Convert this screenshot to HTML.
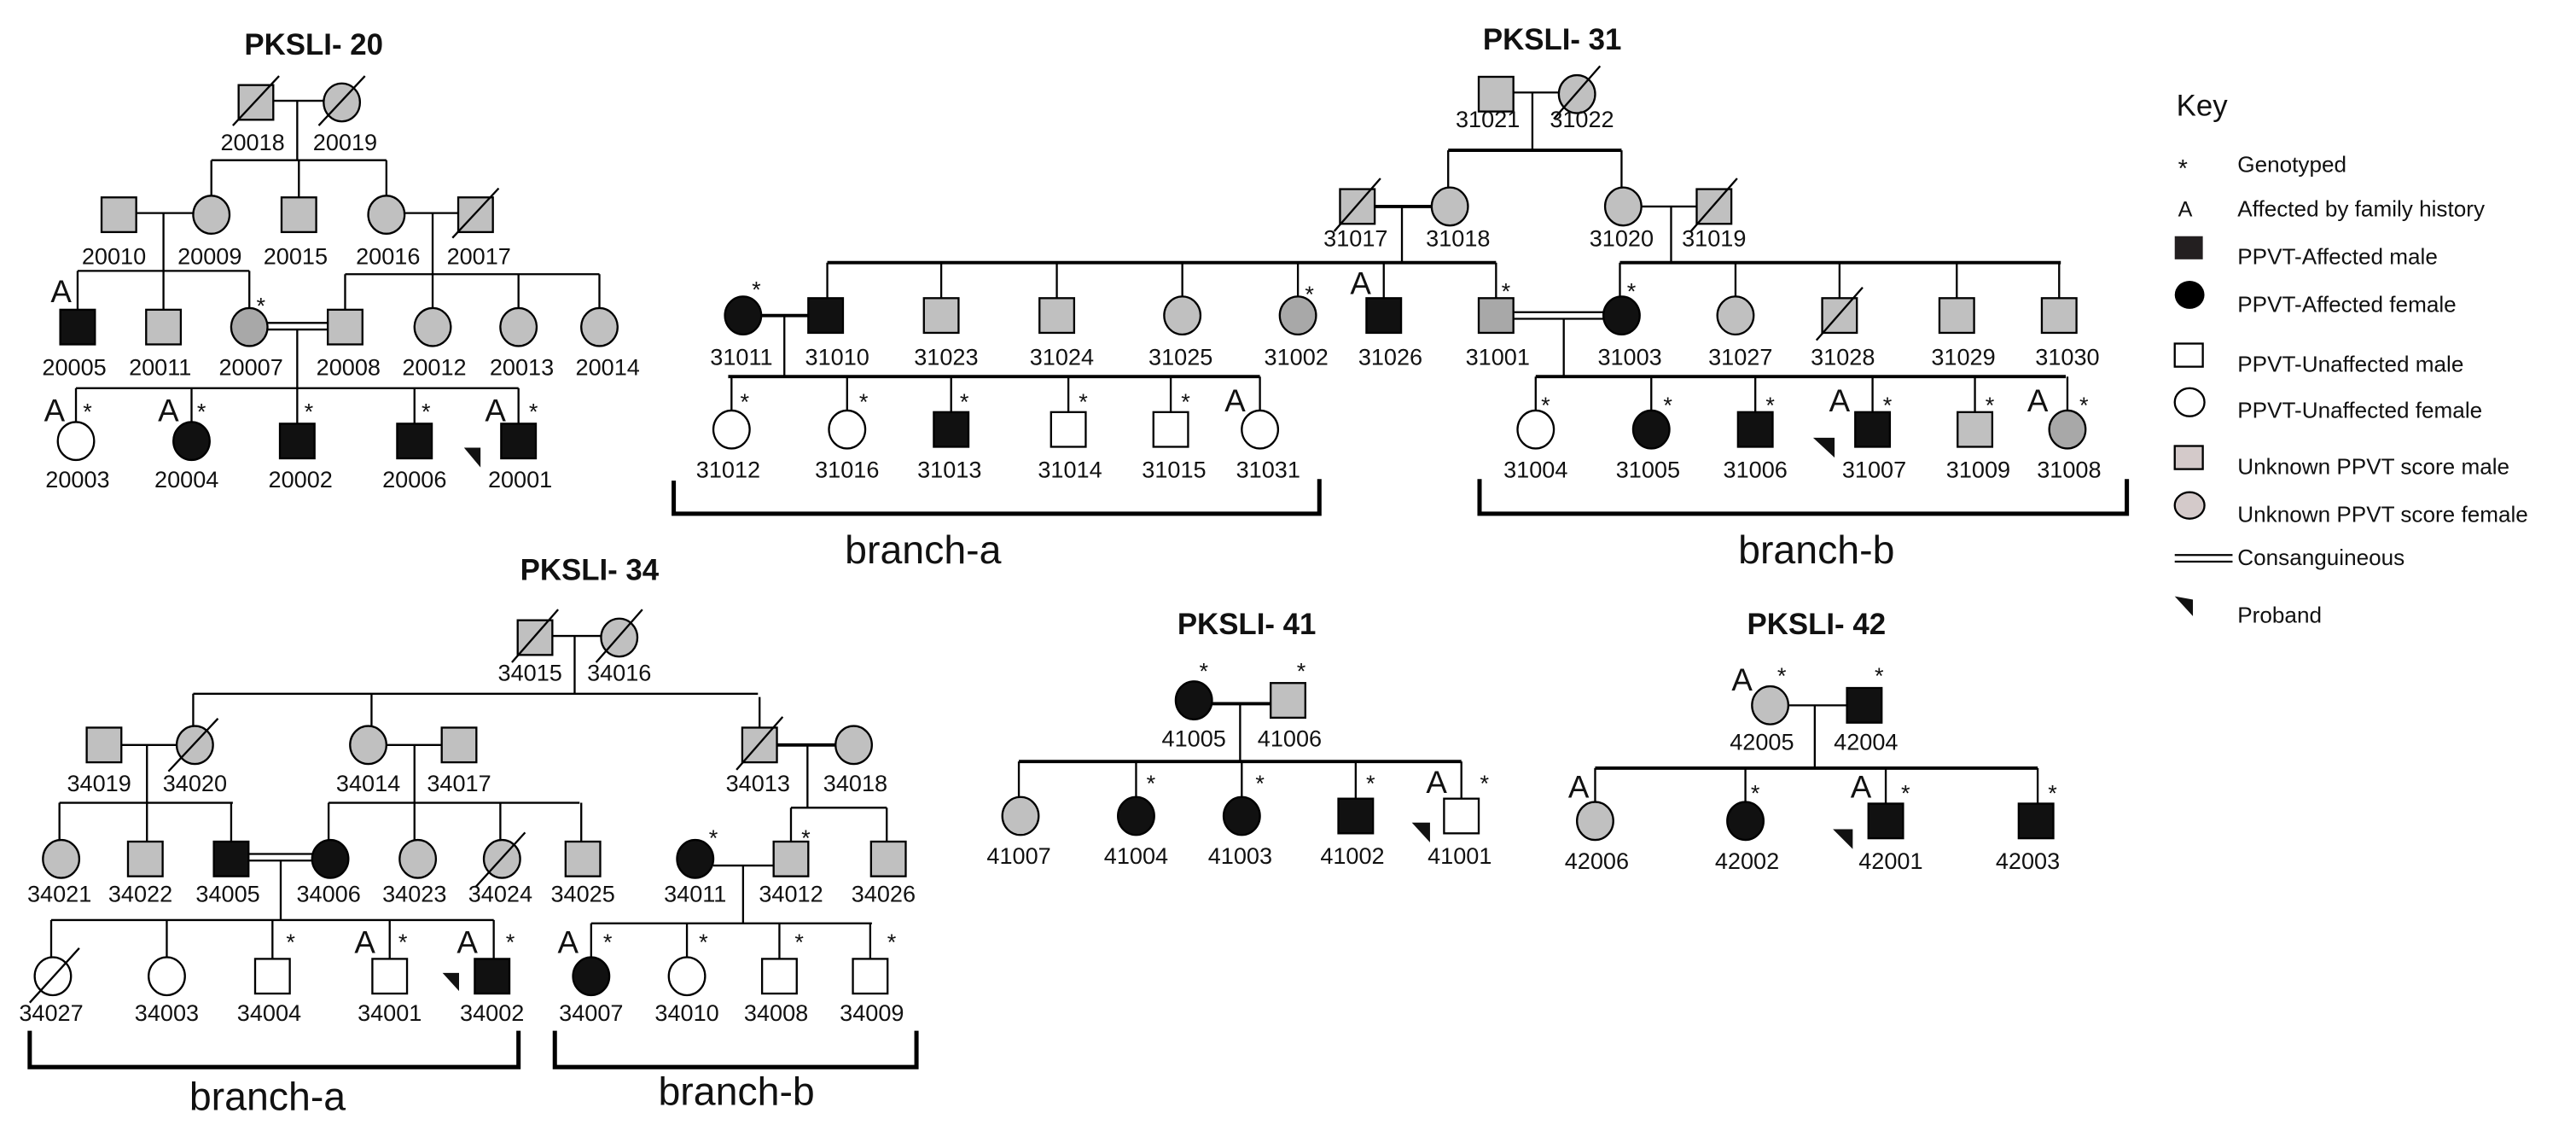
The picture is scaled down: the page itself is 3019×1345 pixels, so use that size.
<!DOCTYPE html>
<html><head><meta charset="utf-8"><style>
html,body{margin:0;padding:0;background:#fff}
svg{display:block}
.l{stroke:#000;stroke-width:1.2;fill:none}
.t{stroke:#000;stroke-width:2;fill:none}
.b{stroke:#000;stroke-width:2.6;fill:none}
.g{fill:#c0c0c0;stroke:#000;stroke-width:1.2}
.d{fill:#a8a8a8;stroke:#000;stroke-width:1.2}
.k{fill:#111;stroke:#000;stroke-width:1.2}
.w{fill:#fff;stroke:#000;stroke-width:1.2}
.p{fill:#d4caca;stroke:#000;stroke-width:1.2}
text{font-family:"Liberation Sans",sans-serif;fill:#111}
.n{font-size:14px;text-anchor:middle}
.a{font-size:19px;text-anchor:middle}
.s{font-size:14px;text-anchor:middle}
.h{font-size:18px;font-weight:bold;text-anchor:middle}
.br{font-size:24px;text-anchor:middle}
.ky{font-size:13.5px}
</style></head><body>
<svg width="3019" height="1345" viewBox="0 0 1560 695" preserveAspectRatio="none" xmlns="http://www.w3.org/2000/svg">
<defs>
<rect id="S" x="-10.5" y="-10.5" width="21" height="21"/>
<ellipse id="C" cx="0" cy="0" rx="11" ry="11.5"/>
</defs>

<!-- ================= PKSLI-20 ================= -->
<text class="h" x="190" y="33">PKSLI- 20</text>
<path class="l" d="M166,61H196M180,61V97M128,97H234M128,97V118.5M181,97V119.5M234,97V118.5"/>
<use href="#S" class="g" x="155" y="62"/><use href="#C" class="g" x="207" y="62"/>
<path class="l" d="M141,76L169,46M193,76L221,46"/>
<text class="n" x="153" y="91">20018</text><text class="n" x="209" y="91">20019</text>

<path class="l" d="M83,129H117M245,129H278M99,129V164M47,164H151M47,164V187.5M99,164V187.5M151,164V186.5M262,129V166M209,166H363M209,166V187.5M262,166V186.5M314,166V186.5M363,166V186.5"/>
<use href="#S" class="g" x="72" y="130"/><use href="#C" class="g" x="128" y="130"/><use href="#S" class="g" x="181" y="130"/><use href="#C" class="g" x="234" y="130"/><use href="#S" class="g" x="288" y="130"/>
<path class="l" d="M274,144L302,114"/>
<text class="n" x="69" y="160">20010</text><text class="n" x="127" y="160">20009</text><text class="n" x="179" y="160">20015</text><text class="n" x="235" y="160">20016</text><text class="n" x="290" y="160">20017</text>

<use href="#S" class="k" x="47" y="198"/><use href="#S" class="g" x="99" y="198"/><use href="#C" class="d" x="151" y="198"/><use href="#S" class="g" x="209" y="198"/><use href="#C" class="g" x="262" y="198"/><use href="#C" class="g" x="314" y="198"/><use href="#C" class="g" x="363" y="198"/>
<path class="l" d="M162,195.5H198.5M162,199.5H198.5M180,199.5V235"/>
<text class="a" x="37" y="183">A</text><text class="s" x="158" y="190">*</text>
<text class="n" x="45" y="227">20005</text><text class="n" x="97" y="227">20011</text><text class="n" x="152" y="227">20007</text><text class="n" x="211" y="227">20008</text><text class="n" x="263" y="227">20012</text><text class="n" x="316" y="227">20013</text><text class="n" x="368" y="227">20014</text>

<path class="l" d="M46,235H314M46,235V255.5M116,235V255.5M180,235V256.5M251,235V256.5M314,235V256.5"/>
<use href="#C" class="w" x="46" y="267"/><use href="#C" class="k" x="116" y="267"/><use href="#S" class="k" x="180" y="267"/><use href="#S" class="k" x="251" y="267"/><use href="#S" class="k" x="314" y="267"/>
<text class="a" x="33" y="255">A</text><text class="a" x="102" y="255">A</text><text class="a" x="300" y="255">A</text>
<text class="s" x="53" y="254">*</text><text class="s" x="122" y="254">*</text><text class="s" x="187" y="254">*</text><text class="s" x="258" y="254">*</text><text class="s" x="323" y="254">*</text>
<polygon points="281,271 291,271 291,283" fill="#111"/>
<text class="n" x="47" y="295">20003</text><text class="n" x="113" y="295">20004</text><text class="n" x="182" y="295">20002</text><text class="n" x="251" y="295">20006</text><text class="n" x="315" y="295">20001</text>

<!-- ================= PKSLI-31 ================= -->
<text class="h" x="940" y="30">PKSLI- 31</text>
<path class="l" d="M916,56H944M928,56V91"/>
<path class="t" d="M877,91H982"/>
<path class="l" d="M877,91V113.5M982,91V113.5"/>
<use href="#S" class="g" x="906" y="57"/><use href="#C" class="g" x="955" y="57"/>
<path class="l" d="M941,72L969,40"/>
<text class="n" x="901" y="77">31021</text><text class="n" x="958" y="77">31022</text>

<path class="t" d="M832.5,125H867"/><path class="l" d="M994,125H1027.5M849,125V159M1012,125V159"/>
<use href="#S" class="g" x="822" y="125"/><use href="#C" class="g" x="878" y="125"/><use href="#C" class="g" x="983" y="125"/><use href="#S" class="g" x="1038" y="125"/>
<path class="l" d="M808,140L836,108M1024,140L1052,108"/>
<text class="n" x="821" y="149">31017</text><text class="n" x="883" y="149">31018</text><text class="n" x="982" y="149">31020</text><text class="n" x="1038" y="149">31019</text>

<path class="t" d="M501,159H906M981,159H1248"/>
<path class="l" d="M501,159V180.5M570,159V180.5M640,159V180.5M716,159V179.5M786,159V179.5M838,159V180.5M906,159V180.5M981,159V179.5M1051,159V179.5M1114,159V180.5M1185,159V180.5M1247,159V180.5"/>
<use href="#C" class="k" x="450" y="191"/><use href="#S" class="k" x="500" y="191"/><use href="#S" class="g" x="570" y="191"/><use href="#S" class="g" x="640" y="191"/><use href="#C" class="g" x="716" y="191"/><use href="#C" class="d" x="786" y="191"/><use href="#S" class="k" x="838" y="191"/><use href="#S" class="d" x="906" y="191"/><use href="#C" class="k" x="982" y="191"/><use href="#C" class="g" x="1051" y="191"/><use href="#S" class="g" x="1114" y="191"/><use href="#S" class="g" x="1185" y="191"/><use href="#S" class="g" x="1247" y="191"/>
<path class="l" d="M1100,206L1128,174"/>
<path class="t" d="M461,191H489.5"/><path class="l" d="M475,191V228M917,189H971M917,193H971M947,193V228"/>
<text class="s" x="458" y="180">*</text><text class="s" x="793" y="183">*</text><text class="s" x="912" y="181">*</text><text class="s" x="988" y="181">*</text>
<text class="a" x="824" y="178">A</text>
<text class="n" x="449" y="221">31011</text><text class="n" x="507" y="221">31010</text><text class="n" x="573" y="221">31023</text><text class="n" x="643" y="221">31024</text><text class="n" x="715" y="221">31025</text><text class="n" x="785" y="221">31002</text><text class="n" x="842" y="221">31026</text><text class="n" x="907" y="221">31001</text><text class="n" x="987" y="221">31003</text><text class="n" x="1054" y="221">31027</text><text class="n" x="1116" y="221">31028</text><text class="n" x="1189" y="221">31029</text><text class="n" x="1252" y="221">31030</text>

<path class="t" d="M441,228H763M930,228H1251"/>
<path class="l" d="M443,228V248.5M513,228V248.5M576,228V249.5M647,228V249.5M709,228V249.5M763,228V248.5M930,228V248.5M1000,228V248.5M1063,228V249.5M1134,228V249.5M1196,228V249.5M1252,228V248.5"/>
<use href="#C" class="w" x="443" y="260"/><use href="#C" class="w" x="513" y="260"/><use href="#S" class="k" x="576" y="260"/><use href="#S" class="w" x="647" y="260"/><use href="#S" class="w" x="709" y="260"/><use href="#C" class="w" x="763" y="260"/>
<use href="#C" class="w" x="930" y="260"/><use href="#C" class="k" x="1000" y="260"/><use href="#S" class="k" x="1063" y="260"/><use href="#S" class="k" x="1134" y="260"/><use href="#S" class="g" x="1196" y="260"/><use href="#C" class="d" x="1252" y="260"/>
<text class="s" x="451" y="248">*</text><text class="s" x="523" y="248">*</text><text class="s" x="584" y="248">*</text><text class="s" x="656" y="248">*</text><text class="s" x="718" y="248">*</text>
<text class="s" x="936" y="250">*</text><text class="s" x="1010" y="250">*</text><text class="s" x="1072" y="250">*</text><text class="s" x="1143" y="250">*</text><text class="s" x="1205" y="250">*</text><text class="s" x="1262" y="250">*</text>
<text class="a" x="748" y="249">A</text><text class="a" x="1114" y="249">A</text><text class="a" x="1234" y="249">A</text>
<polygon points="1098,265 1111,265 1111,277" fill="#111"/>
<text class="n" x="441" y="289">31012</text><text class="n" x="513" y="289">31016</text><text class="n" x="575" y="289">31013</text><text class="n" x="648" y="289">31014</text><text class="n" x="711" y="289">31015</text><text class="n" x="768" y="289">31031</text>
<text class="n" x="930" y="289">31004</text><text class="n" x="998" y="289">31005</text><text class="n" x="1063" y="289">31006</text><text class="n" x="1135" y="289">31007</text><text class="n" x="1198" y="289">31009</text><text class="n" x="1253" y="289">31008</text>
<path class="b" d="M408,291V311H799V290M896,290V311H1288V290"/>
<text class="br" x="559" y="341">branch-a</text><text class="br" x="1100" y="341">branch-b</text>

<!-- ================= PKSLI-34 ================= -->
<text class="h" x="357" y="351">PKSLI- 34</text>
<path class="l" d="M334.5,385H364M348,385V420M117,420H459M117,420V439.5M225,420V439.5M460,422V440.5"/>
<use href="#S" class="g" x="324" y="386"/><use href="#C" class="g" x="375" y="386"/>
<path class="l" d="M310,401L338,369M361,401L389,369"/>
<text class="n" x="321" y="412">34015</text><text class="n" x="375" y="412">34016</text>

<path class="l" d="M73.5,451H107M234,451H267.5M89,451V486M251,451V486M489,451V489"/><path class="t" d="M470.5,451H506"/>
<use href="#S" class="g" x="63" y="451"/><use href="#C" class="g" x="118" y="451"/><use href="#C" class="g" x="223" y="451"/><use href="#S" class="g" x="278" y="451"/><use href="#S" class="g" x="460" y="451"/><use href="#C" class="g" x="517" y="451"/>
<path class="l" d="M102,467L132,435M446,466L474,434"/>
<text class="n" x="60" y="479">34019</text><text class="n" x="118" y="479">34020</text><text class="n" x="223" y="479">34014</text><text class="n" x="278" y="479">34017</text><text class="n" x="459" y="479">34013</text><text class="n" x="518" y="479">34018</text>

<path class="l" d="M36,486H141M36,486V508.5M89,486V509.5M140,486V509.5M199,486H351M199,486V508.5M251,486V508.5M303,486V508.5M352,486V509.5M479,489H537M479,489V509.5M537,489V509.5"/>
<use href="#C" class="g" x="37" y="520"/><use href="#S" class="g" x="88" y="520"/><use href="#S" class="k" x="140" y="520"/><use href="#C" class="k" x="200" y="520"/><use href="#C" class="g" x="253" y="520"/><use href="#C" class="g" x="304" y="520"/><use href="#S" class="g" x="353" y="520"/><use href="#C" class="k" x="421" y="520"/><use href="#S" class="g" x="479" y="520"/><use href="#S" class="g" x="538" y="520"/>
<path class="l" d="M288,537L318,504M150.5,517H189M150.5,521H189M170,521V557M432,524H468.5M450,524V559"/>
<text class="s" x="432" y="512">*</text><text class="s" x="488" y="512">*</text>
<text class="n" x="36" y="546">34021</text><text class="n" x="85" y="546">34022</text><text class="n" x="138" y="546">34005</text><text class="n" x="199" y="546">34006</text><text class="n" x="251" y="546">34023</text><text class="n" x="303" y="546">34024</text><text class="n" x="353" y="546">34025</text><text class="n" x="421" y="546">34011</text><text class="n" x="479" y="546">34012</text><text class="n" x="535" y="546">34026</text>

<path class="l" d="M31,557H299M31,557V579.5M101,557V579.5M165,557V580.5M236,557V580.5M299,557V580.5M358,559H528M358,559V579.5M416,559V579.5M472,559V580.5M527,559V580.5"/>
<use href="#C" class="w" x="32" y="591"/><use href="#C" class="w" x="101" y="591"/><use href="#S" class="w" x="165" y="591"/><use href="#S" class="w" x="236" y="591"/><use href="#S" class="k" x="298" y="591"/>
<use href="#C" class="k" x="358" y="591"/><use href="#C" class="w" x="416" y="591"/><use href="#S" class="w" x="472" y="591"/><use href="#S" class="w" x="527" y="591"/>
<path class="l" d="M18,607L48,574"/>
<text class="s" x="176" y="575">*</text><text class="s" x="244" y="575">*</text><text class="s" x="309" y="575">*</text><text class="s" x="368" y="575">*</text><text class="s" x="426" y="575">*</text><text class="s" x="484" y="575">*</text><text class="s" x="540" y="575">*</text>
<text class="a" x="221" y="577">A</text><text class="a" x="283" y="577">A</text><text class="a" x="344" y="577">A</text>
<polygon points="268,589 278,589 278,600" fill="#111"/>
<text class="n" x="31" y="618">34027</text><text class="n" x="101" y="618">34003</text><text class="n" x="163" y="618">34004</text><text class="n" x="236" y="618">34001</text><text class="n" x="298" y="618">34002</text><text class="n" x="358" y="618">34007</text><text class="n" x="416" y="618">34010</text><text class="n" x="470" y="618">34008</text><text class="n" x="528" y="618">34009</text>
<path class="b" d="M18,624V646H314V624M336,624V646H555V624"/>
<text class="br" x="162" y="672">branch-a</text><text class="br" x="446" y="669">branch-b</text>

<!-- ================= PKSLI-41 ================= -->
<text class="h" x="755" y="384">PKSLI- 41</text>
<path class="t" d="M734,426H769.5"/><path class="l" d="M751,426V461"/>
<use href="#C" class="k" x="723" y="424"/><use href="#S" class="g" x="780" y="424"/>
<text class="s" x="729" y="411">*</text><text class="s" x="788" y="411">*</text>
<text class="n" x="723" y="452">41005</text><text class="n" x="781" y="452">41006</text>
<path class="t" d="M617,461H885"/>
<path class="l" d="M617,461V482.5M688,461V482.5M752,461V482.5M821,461V483.5M885,461V483.5"/>
<use href="#C" class="g" x="618" y="494"/><use href="#C" class="k" x="688" y="494"/><use href="#C" class="k" x="752" y="494"/><use href="#S" class="k" x="821" y="494"/><use href="#S" class="w" x="885" y="494"/>
<text class="s" x="697" y="479">*</text><text class="s" x="763" y="479">*</text><text class="s" x="830" y="479">*</text><text class="s" x="899" y="479">*</text>
<text class="a" x="870" y="480">A</text>
<polygon points="855,498 866,498 866,510" fill="#111"/>
<text class="n" x="617" y="523">41007</text><text class="n" x="688" y="523">41004</text><text class="n" x="751" y="523">41003</text><text class="n" x="819" y="523">41002</text><text class="n" x="884" y="523">41001</text>

<!-- ================= PKSLI-42 ================= -->
<text class="h" x="1100" y="384">PKSLI- 42</text>
<path class="l" d="M1083,427H1118.5M1099,427V465"/>
<use href="#C" class="g" x="1072" y="427"/><use href="#S" class="k" x="1129" y="427"/>
<text class="a" x="1055" y="418">A</text><text class="s" x="1079" y="414">*</text><text class="s" x="1138" y="414">*</text>
<text class="n" x="1067" y="454">42005</text><text class="n" x="1130" y="454">42004</text>
<path class="t" d="M966,465H1234"/>
<path class="l" d="M966,465V485.5M1057,465V485.5M1142,465V486.5M1234,465V486.5"/>
<use href="#C" class="g" x="966" y="497"/><use href="#C" class="k" x="1057" y="497"/><use href="#S" class="k" x="1142" y="497"/><use href="#S" class="k" x="1233" y="497"/>
<text class="a" x="956" y="483">A</text><text class="a" x="1127" y="483">A</text>
<text class="s" x="1063" y="485">*</text><text class="s" x="1154" y="485">*</text><text class="s" x="1243" y="485">*</text>
<polygon points="1110,502 1122,502 1122,514" fill="#111"/>
<text class="n" x="967" y="526">42006</text><text class="n" x="1058" y="526">42002</text><text class="n" x="1145" y="526">42001</text><text class="n" x="1228" y="526">42003</text>

<!-- ================= KEY ================= -->
<text x="1318" y="70" style="font-size:18px">Key</text>
<text x="1319" y="107" style="font-size:15px">*</text>
<text x="1319" y="131" style="font-size:13px">A</text>
<rect x="1317" y="143" width="17" height="14" fill="#231f20"/>
<ellipse cx="1326" cy="178.5" rx="9" ry="8.5" fill="#000"/>
<rect x="1317" y="208" width="17" height="14" class="w"/>
<ellipse cx="1326" cy="243.5" rx="9" ry="8.5" class="w"/>
<rect x="1317" y="270" width="17" height="14" class="p"/>
<ellipse cx="1326" cy="306" rx="9" ry="8" class="p"/>
<path class="l" d="M1317,336H1352M1317,340H1352"/>
<polygon points="1317,361 1328,363 1328,373" fill="#111"/>
<text class="ky" x="1355" y="104">Genotyped</text>
<text class="ky" x="1355" y="131">Affected by family history</text>
<text class="ky" x="1355" y="160">PPVT-Affected male</text>
<text class="ky" x="1355" y="189">PPVT-Affected female</text>
<text class="ky" x="1355" y="225">PPVT-Unaffected male</text>
<text class="ky" x="1355" y="253">PPVT-Unaffected female</text>
<text class="ky" x="1355" y="287">Unknown PPVT score male</text>
<text class="ky" x="1355" y="316">Unknown PPVT score female</text>
<text class="ky" x="1355" y="342">Consanguineous</text>
<text class="ky" x="1355" y="377">Proband</text>
</svg>
</body></html>
